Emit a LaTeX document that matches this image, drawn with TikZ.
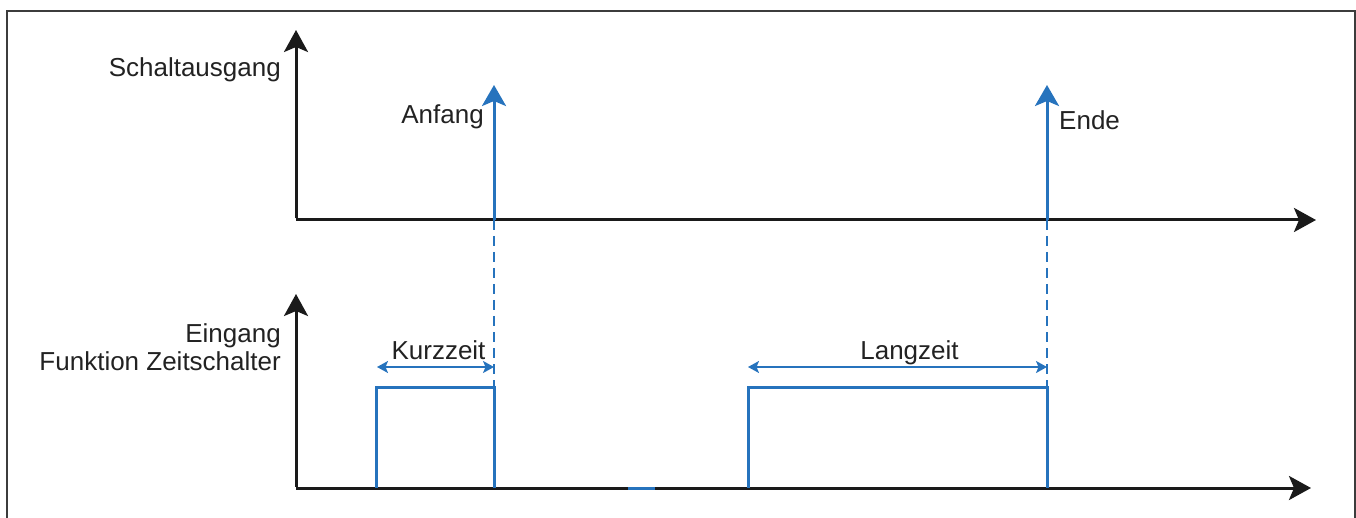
\documentclass[tikz,border=0pt]{standalone}
\usepackage{fontspec}
\setmainfont{Liberation Sans}
\usetikzlibrary{arrows.meta}
\definecolor{sigblue}{RGB}{38,115,189}
\definecolor{axisblack}{RGB}{26,26,26}
\definecolor{textgray}{RGB}{34,34,34}
\begin{document}
\begin{tikzpicture}[x=1pt,y=-1pt,
  axis/.style={draw=axisblack,line width=3pt,-{Stealth[length=22pt,width=24pt,inset=5pt]}},
  pulse/.style={draw=sigblue,line width=3pt},
  event/.style={draw=sigblue,line width=3pt,-{Stealth[length=21pt,width=24pt,inset=5pt]}},
  guide/.style={draw=sigblue,line width=1.5pt,dash pattern=on 10pt off 6pt},
  dimen/.style={draw=sigblue,line width=1.7pt,{Stealth[length=11pt,width=12pt,inset=2.5pt]}-{Stealth[length=11pt,width=12pt,inset=2.5pt]}},
  lbl/.style={font=\fontsize{26}{28}\selectfont,text=textgray,inner sep=0pt},
  frame/.style={draw=axisblack!85,line width=1.4pt}]
\useasboundingbox (0,0) rectangle (1356,518);
\draw[frame] (7,530) -- (7,11) -- (1355,11) -- (1355,530);
% coordinates
\coordinate (o1) at (296,220);
\coordinate (y1) at (296,30);
\coordinate (x1) at (1316,220);
\coordinate (o2) at (296,488);
\coordinate (y2) at (296,294);
\coordinate (x2) at (1311,488);
\coordinate (a0) at (494,220);
\coordinate (a1) at (494,85);
\coordinate (e0) at (1047,220);
\coordinate (e1) at (1047,85);
\coordinate (p1a) at (376,488);
\coordinate (p1b) at (376,387);
\coordinate (p1c) at (494,387);
\coordinate (p1d) at (494,488);
\coordinate (p2a) at (748,488);
\coordinate (p2b) at (748,387);
\coordinate (p2c) at (1047,387);
\coordinate (p2d) at (1047,488);
\coordinate (k0) at (377,367);
\coordinate (k1) at (494,367);
\coordinate (l0) at (748,367);
\coordinate (l1) at (1047,367);
\coordinate (m0) at (628,488);
\coordinate (m1) at (655,488);
% axes
\draw[axis] (o1) -- (x1);
\draw[axis] ([yshift=1.5pt]o1) -- (y1);
\draw[axis] (o2) -- (x2);
\draw[axis] ([yshift=1.5pt]o2) -- (y2);
% guides
\draw[guide] (a0) -- (p1c);
\draw[guide] (e0) -- (p2c);
% events
\draw[event] (a0) -- (a1);
\draw[event] (e0) -- (e1);
% pulses
\draw[pulse] (p1a) -- (p1b) -- (p1c) -- (p1d);
\draw[pulse] (p2a) -- (p2b) -- (p2c) -- (p2d);
\draw[pulse] (m0) -- (m1);
% dimensions
\draw[dimen] (k0) -- (k1);
\draw[dimen] (l0) -- (l1);
% labels
\node[lbl,anchor=base east] (schalt) at (281,77) {Schaltausgang};
\node[lbl,anchor=base east] (anf) at (484,124) {Anfang};
\node[lbl,anchor=base west] (ende) at (1059,130) {Ende};
\node[lbl,anchor=base east] (eing) at (281,342) {Eingang};
\node[lbl,anchor=base east] (funk) at (281,370) {Funktion Zeitschalter};
\node[lbl,anchor=base] (kurz) at (438.5,359) {Kurzzeit};
\node[lbl,anchor=base] (lang) at (909.5,359) {Langzeit};
\end{tikzpicture}
\end{document}
